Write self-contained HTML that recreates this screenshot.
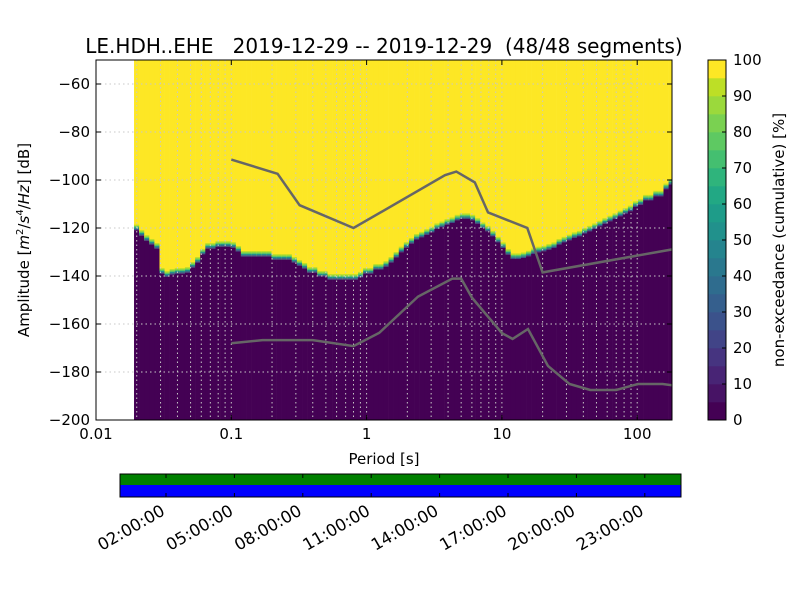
<!DOCTYPE html>
<html><head><meta charset="utf-8"><style>
html,body{margin:0;padding:0;background:#fff;}
svg{display:block;font-family:"DejaVu Sans","Liberation Sans",sans-serif;}
</style></head><body>
<svg id="chart" width="800" height="600" viewBox="0 0 800 600" xmlns="http://www.w3.org/2000/svg">
<rect width="800" height="600" fill="#fff"/>
<g id="plot"></g>
<g id="cbar"></g>
<g id="tl"></g>
<text x="384" y="53" font-size="20" text-anchor="middle" style="white-space:pre" xml:space="preserve">LE.HDH..EHE   2019-12-29 -- 2019-12-29  (48/48 segments)</text>
<text x="384" y="464" font-size="15" text-anchor="middle">Period [s]</text>
<text transform="translate(29,240) rotate(-90)" font-size="15" text-anchor="middle">Amplitude [<tspan font-style="italic">m</tspan><tspan font-size="10" dy="-6">2</tspan><tspan dy="6">/</tspan><tspan font-style="italic">s</tspan><tspan font-size="10" dy="-6">4</tspan><tspan dy="6">/</tspan><tspan font-style="italic">Hz</tspan>] [dB]</text>
<text transform="translate(784,240) rotate(-90)" font-size="15" text-anchor="middle">non-exceedance (cumulative) [%]</text>
</svg>
<script>
const NS="http://www.w3.org/2000/svg";
// ---- data ----
const boundaryDb=[-120.9,-123.2,-125.3,-126.9,-128.6,-139,-140.3,-139.4,-139,-139,-138.6,-136.5,-134.4,-131,-128.6,-128.6,-127.8,-127.8,-127.8,-128.2,-129.8,-131.9,-131.9,-131.9,-131.9,-131.9,-131.9,-133.2,-133.2,-133.2,-133.2,-134.4,-135.7,-136.9,-138.6,-138.6,-140.2,-140.2,-141.5,-141.5,-141.5,-141.5,-141.5,-141.5,-140.6,-139,-139,-137.3,-137.3,-136.1,-134.4,-132.3,
-130.1,-128.2,-126.5,-124.8,-123.9,-122.8,-121.8,-120.4,-119.6,-118.6,-117.9,-116.8,-116.2,-116.2,-116.8,-118.2,-120,-121.4,-123.5,-126,-128.3,-131.1,-132.9,-132.9,-132.5,-131.8,-130.8,-130.1,-129.7,-129,-128.3,-126.9,-126,-125.1,-124.1,-123.5,-122.3,-121.4,-120.4,-119.3,-118.2,-117.2,-116.2,-115.1,-114,-113,-111.2,-110.3,-108.5,-108.5,-106.8,-106.8,-103.8,-101.9];
const firstPeriod=0.0191;
const nhnmT=[0.1,0.22,0.32,0.8,3.8,4.6,6.3,7.9,15.4,20,354.8];
const nhnmDb=[-91.5,-97.4,-110.5,-120,-98,-96.5,-101,-113.5,-120,-138.5,-126];
const nlnmT=[0.1,0.17,0.4,0.8,1.24,2.4,4.3,5,6,10,12,15.6,21.9,31.6,45,70,101,154,328];
const nlnmDb=[-168,-166.7,-166.7,-169.2,-163.7,-148.6,-141.1,-141.1,-149,-163.8,-166.2,-162.1,-177.5,-185,-187.5,-187.5,-185,-185,-187.5];
const yTicks=[-60,-80,-100,-120,-140,-160,-180,-200];
const xTicks=[0.01,0.1,1,10,100];
const xTickLabels=["0.01","0.1","1","10","100"];
const cbTicks=[0,10,20,30,40,50,60,70,80,90,100];
const timeLabels=["02:00:00","05:00:00","08:00:00","11:00:00","14:00:00","17:00:00","20:00:00","23:00:00"];
// ---- scales ----
const L=96,R=672,T=60,B=420;
const xOf=p=>L+(Math.log10(p)+2)*135.3;
const yOf=d=>T+(-50-d)/150*(B-T);
const viridis=["#440154","#471365","#482475","#463480","#414487","#3b528b","#355f8d","#2f6c8e","#2a788e","#25848e","#21918c","#1e9c89","#22a884","#2fb47c","#44bf70","#5ec962","#7ad151","#9bd93c","#bddf26","#dfe318","#fde725"];
const plot=document.getElementById('plot');
function mk(tag,attrs,parent){const e=document.createElementNS(NS,tag);for(const k in attrs)e.setAttribute(k,attrs[k]);parent.appendChild(e);return e;}
const clip=mk('clipPath',{id:'pc'},plot);mk('rect',{x:L,y:T,width:R-L,height:B-T},clip);
const g=mk('g',{'clip-path':'url(#pc)'},plot);
const step=Math.pow(2,1/8);
boundaryDb.forEach((d,i)=>{
  const p0=firstPeriod*Math.pow(step,i),p1=p0*step;
  const x0=xOf(p0),w=xOf(p1)-x0+0.3,yb=yOf(d);
  let r=mk('rect',{x:x0,y:T,width:w,height:yb-T,fill:'#fde725'},g);
  
  
  const bands=[['#bddf26',1.4],['#5ec962',1.4],['#21918c',1.4],['#3b528b',1.3]];
  let yy=yb-5.5;
  bands.forEach(b=>{mk('rect',{x:x0,y:yy,width:w,height:b[1]+0.1,fill:b[0]},g);yy+=b[1];});
  r=mk('rect',{x:x0,y:yb,width:w,height:B-yb,fill:'#440154'},g);
  
  
});
// grid
for(let dec=-2;dec<=2;dec++){for(let m=1;m<=9;m++){const p=m*Math.pow(10,dec);const x=xOf(p);if(x<=L+0.5||x>=R)continue;
  mk('line',{x1:x,x2:x,y1:T,y2:B,stroke:'#c8c8c8','stroke-dasharray':'1.5,3','stroke-width':1},g);}}
yTicks.forEach(t=>{const y=yOf(t);mk('line',{x1:L,x2:R,y1:y,y2:y,stroke:'#c8c8c8','stroke-dasharray':'1.5,3','stroke-width':1},g);});
// noise models
function line(T_,D_,name){const pts=T_.map((t,i)=>xOf(t).toFixed(1)+','+yOf(D_[i]).toFixed(1)).join(' ');
  const pl=mk('polyline',{points:pts,fill:'none',stroke:'#666','stroke-width':2.5},g);
  
  }
line(nhnmT,nhnmDb,'nhnm-line');line(nlnmT,nlnmDb,'nlnm-line');
// frame and ticks
mk('rect',{x:L,y:T,width:R-L,height:B-T,fill:'none',stroke:'#000','stroke-width':1},plot);
yTicks.forEach(t=>{const y=yOf(t);
  mk('line',{x1:L,x2:L+5,y1:y,y2:y,stroke:'#000'},plot);mk('line',{x1:R-5,x2:R,y1:y,y2:y,stroke:'#000'},plot);
  const tx=mk('text',{x:L-6,y:y+5,'font-size':15,'text-anchor':'end'},plot);tx.textContent=String(t).replace('-','\u2212');
  
  });
xTicks.forEach((t,i)=>{const x=xOf(t);
  mk('line',{x1:x,x2:x,y1:B-5,y2:B,stroke:'#000'},plot);mk('line',{x1:x,x2:x,y1:T,y2:T+5,stroke:'#000'},plot);
  const tx=mk('text',{x:x,y:B+19,'font-size':15,'text-anchor':'middle'},plot);tx.textContent=xTickLabels[i];
  
  });
// colorbar
const cb=document.getElementById('cbar');const cx=708,cw=18;
for(let k=0;k<20;k++){const y1=B-(k+1)/20*(B-T);mk('rect',{x:cx,y:y1,width:cw,height:(B-T)/20+0.3,fill:viridis[k===19?20:k]},cb);}
mk('rect',{x:cx,y:T,width:cw,height:B-T,fill:'none',stroke:'#000'},cb);
cbTicks.forEach(t=>{const y=B-t/100*(B-T);mk('line',{x1:cx+cw-4,x2:cx+cw,y1:y,y2:y,stroke:'#000'},cb);
  const tx=mk('text',{x:733,y:y+5,'font-size':15},cb);tx.textContent=t;
  
  });
// timeline
const tl=document.getElementById('tl');
mk('rect',{x:120,y:474,width:561,height:11,fill:'#008000'},tl);
mk('rect',{x:120,y:485,width:561,height:12,fill:'#0000ff'},tl);
mk('rect',{x:120,y:474,width:561,height:23,fill:'none',stroke:'#000'},tl);
timeLabels.forEach((s,i)=>{const x=166+68.4*i;
  mk('line',{x1:x,x2:x,y1:474,y2:478,stroke:'#000'},tl);mk('line',{x1:x,x2:x,y1:493,y2:497,stroke:'#000'},tl);
  const tx=mk('text',{transform:`translate(${x},${514}) rotate(-30)`,'font-size':16.5,'text-anchor':'end'},tl);tx.textContent=s;
  
  });
</script>
</body></html>
